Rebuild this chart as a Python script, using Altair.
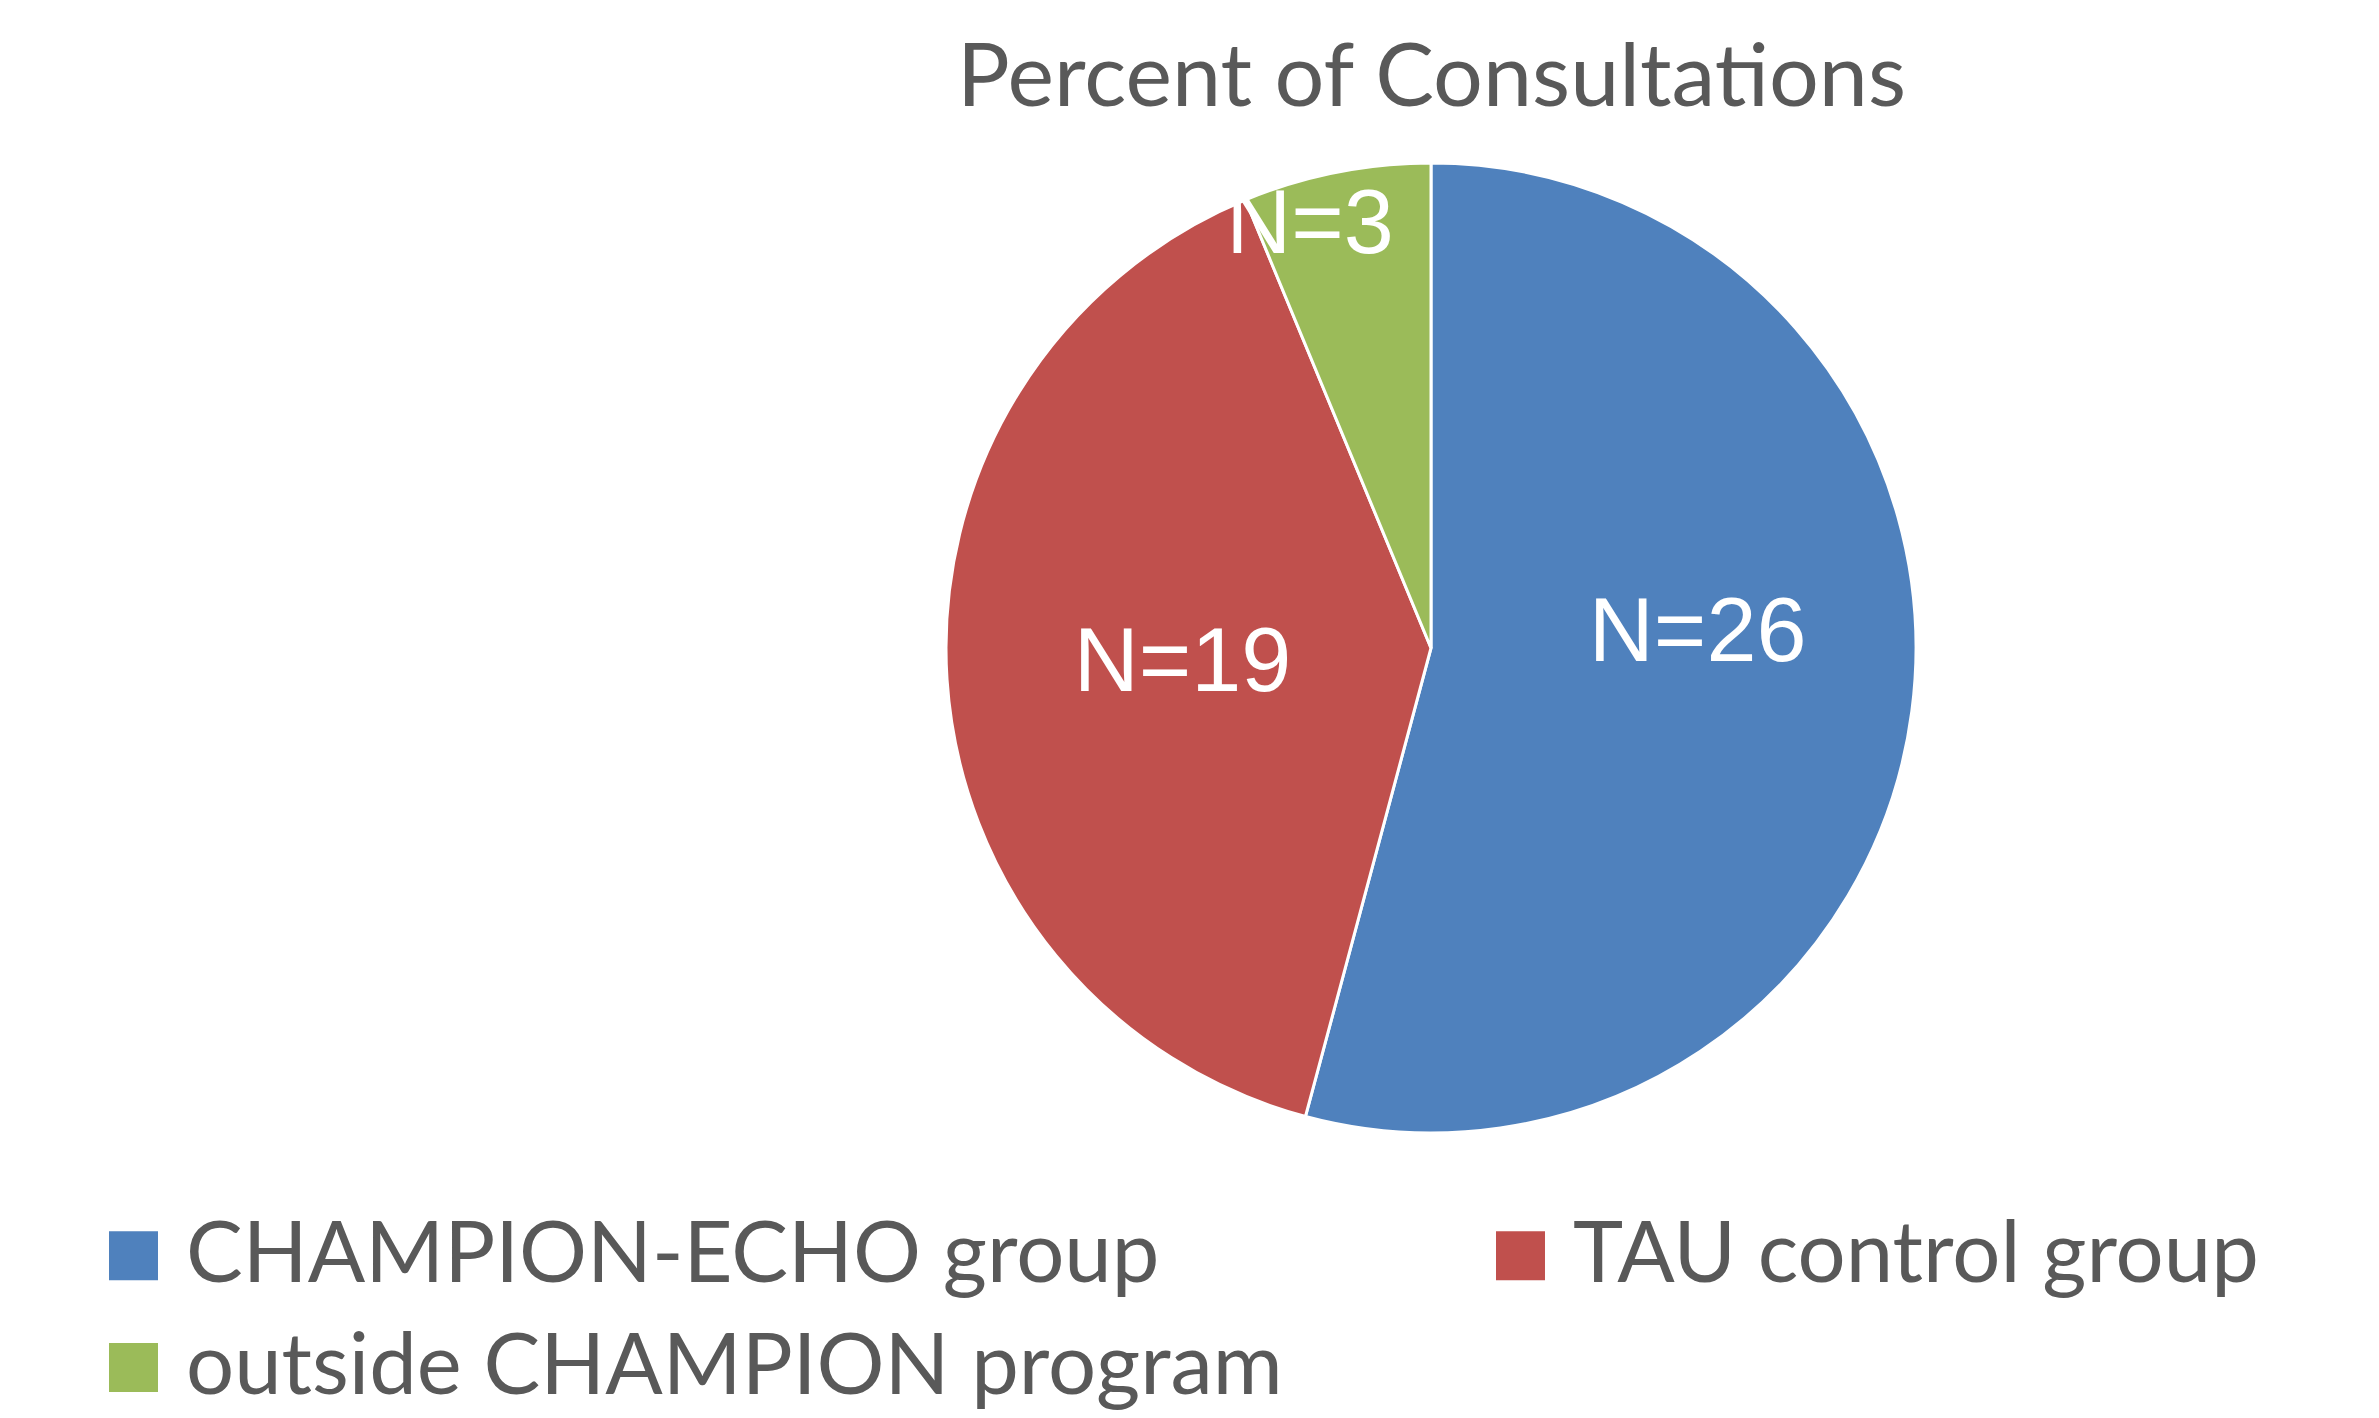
import altair as alt
import pandas as pd

categories = ["CHAMPION-ECHO group", "TAU control group", "outside CHAMPION program"]
counts = [26, 19, 3]
labels = ["N=26", "N=19", "N=3"]
colors = ["#4F81BD", "#C0504D", "#9BBB59"]

df = pd.DataFrame({"category": categories, "count": counts, "label": labels,
                   "idx": list(range(len(categories)))})

CX, CY, R = 1423, 520, 485

base = alt.Chart(df)

arc = base.mark_arc(radius=R, stroke="white", strokeWidth=3).encode(
    theta=alt.Theta("count:Q", stack=True),
    order=alt.Order("idx:Q"),
    x=alt.value(CX),
    y=alt.value(CY),
    color=alt.Color(
        "category:N",
        scale=alt.Scale(domain=categories, range=colors),
        legend=alt.Legend(
            title=None, orient="none", legendX=83, legendY=1085, columns=2,
            direction="horizontal",
            symbolType="square", symbolSize=2400, symbolStrokeWidth=0,
            labelFont="Lato", labelFontSize=85, labelColor="#595959",
            labelOffset=10, columnPadding=195, rowPadding=26, labelLimit=0,
            padding=0,
        ),
    ),
)

lab_base = base.transform_window(
    cum="sum(count)", sort=[alt.SortField("idx")]
).transform_joinaggregate(
    total="sum(count)"
).transform_calculate(
    frac="(datum.cum - datum.count/2) / datum.total"
)

# per-label placement tweaks (radius, dx, dy)
tweaks = {
    "CHAMPION-ECHO group": (269, 0, -49),
    "TAU control group": (249, 0, 0),
    "outside CHAMPION program": (430, -37, 0),
}

texts = []
for cat in categories:
    r, dx, dy = tweaks[cat]
    t = lab_base.transform_filter(alt.datum.category == cat).mark_text(
        radius=r, dx=dx, dy=dy, font="Liberation Sans", fontSize=90,
        color="white", align="center", baseline="middle",
    ).encode(
        theta=alt.Theta("frac:Q", scale=alt.Scale(domain=[0, 1])),
        x=alt.value(CX),
        y=alt.value(CY),
        text="label:N",
    )
    texts.append(t)

chart = alt.layer(arc, *texts).resolve_scale(theta="independent").properties(
    width=2363, height=1282,
    padding={"left": 0, "top": 120, "right": 0, "bottom": 0},
    autosize=alt.AutoSizeParams(type="none"),
    title=alt.TitleParams(
        "Percent of Consultations", font="Lato", fontSize=88, fontWeight="normal",
        color="#595959", anchor="middle", dx=242, frame="group", offset=-66,
        baseline="alphabetic",
    ),
).configure_view(stroke=None)

chart.save("out.html", embed_options={"renderer": "svg", "actions": False})
